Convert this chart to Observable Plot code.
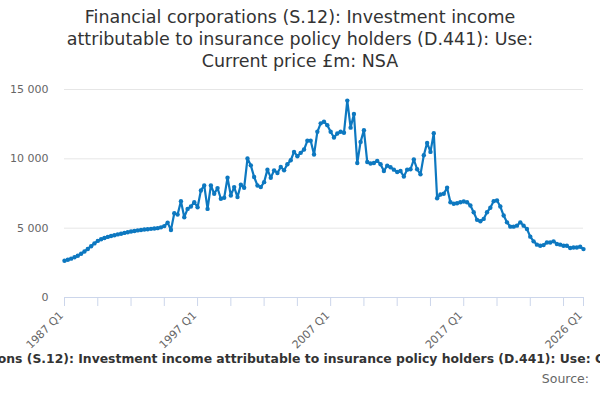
<!DOCTYPE html>
<html>
<head>
<meta charset="utf-8">
<script src="https://cdn.jsdelivr.net/npm/d3@7"></script>
<script src="https://cdn.jsdelivr.net/npm/@observablehq/plot@0.6"></script>
<style>
  html, body { margin: 0; padding: 0; width: 600px; height: 400px; overflow: hidden; background: #fff; font-family: "DejaVu Sans", sans-serif; }
  #title { position: absolute; top: 6px; left: 0; width: 600px; text-align: center; font-size: 17.5px; line-height: 22px; color: #333; }
  #chart { position: absolute; top: 76px; left: 0; }
  #chart svg { overflow: visible; }
  #caption { position: absolute; top: 351px; left: 309px; transform: translateX(-50%); white-space: nowrap; font-size: 12.4px; font-weight: bold; color: #333; }
  #source { position: absolute; top: 371px; right: 11px; font-size: 12.5px; color: #666; }
</style>
</head>
<body>
<div id="title">Financial corporations (S.12): Investment income<br>attributable to insurance policy holders (D.441): Use:<br>Current price £m: NSA</div>
<div id="chart"></div>
<div id="caption">Financial corporations (S.12): Investment income attributable to insurance policy holders (D.441): Use: Current price £m: NSA</div>
<div id="source">Source:</div>
<script>
const startYear = 1987;
const values = [
  2650, 2720, 2800, 2900, 3010, 3150, 3320, 3500, 3700, 3900,
  4080, 4200, 4290, 4370, 4430, 4490, 4550, 4600, 4660, 4710,
  4760, 4800, 4840, 4870, 4900, 4920, 4950, 4980, 5000, 5060,
  5150, 5400, 4870, 6080, 5980, 6950, 5790, 6390, 6560, 6870,
  6510, 7720, 8080, 6390, 8080, 7480, 7890, 7120, 7190, 8640,
  7360, 7960, 7240, 8130, 7920, 10020, 9530, 8690, 8080, 7960,
  8320, 9220, 8640, 9170, 8980, 9410, 9170, 9610, 9900, 10500,
  10190, 10430, 10670, 11300, 11300, 10310, 11950, 12560, 12670, 12430,
  11950, 11540, 11830, 11950, 11880, 14200, 12250, 13230, 9700, 11220,
  12070, 9770, 9660, 9700, 9850, 9610, 9120, 9510, 9390, 9220,
  9050, 9120, 8720, 9220, 9250, 9950, 9250, 8880, 10260, 11150,
  10500, 11850, 7160, 7430, 7480, 7920, 6870, 6760, 6800, 6870,
  6920, 6870, 6630, 6150, 5600, 5500, 5670, 6150, 6470, 6950,
  7000, 6560, 5910, 5420, 5110, 5110, 5180, 5420, 5180, 4940,
  4390, 4050, 3810, 3730, 3780, 3970, 3970, 4050, 3860, 3810,
  3730, 3730, 3570, 3610, 3610, 3660, 3490
];
const quarters = values.map((_, i) => `${startYear + Math.floor(i / 4)} Q${(i % 4) + 1}`);
const tickLabels = ["1987 Q1", "1997 Q1", "2007 Q1", "2017 Q1", "2026 Q1"];
const yTicks = [0, 5000, 10000, 15000];

const data = values.map((v, i) => ({i, quarter: quarters[i], value: v}));
const labelSet = new Set(tickLabels);
const tickIdx = [];
for (let i = 0; i < quarters.length; i += 10) tickIdx.push(i);
tickIdx.push(quarters.length - 1);
const labelIdx = tickIdx.filter(i => labelSet.has(quarters[i]));

const fmt = d => d3.format(",")(d).replace(/,/g, " ");
const color = "#0d78c0";

const plot = Plot.plot({
  width: 600,
  height: 274,
  marginLeft: 64,
  marginRight: 17,
  marginTop: 13,
  marginBottom: 53,
  style: {fontFamily: "DejaVu Sans, sans-serif", fontSize: "11px", background: "transparent", overflow: "visible"},
  x: {domain: [0, quarters.length - 1]},
  y: {domain: [0, 15000]},
  marks: [
    Plot.gridY(yTicks.slice(1), {stroke: "#e6e6e6", strokeOpacity: 1}),
    Plot.axisY({ticks: yTicks, tickSize: 0, tickPadding: 16, tickFormat: fmt, fill: "#666", label: null}),
    Plot.ruleY([0], {stroke: "#ccd6eb", strokeWidth: 1}),
    Plot.axisX({ticks: tickIdx, tickSize: 9, stroke: "#ccd6eb", strokeOpacity: 1, tickFormat: () => "", label: null}),
    Plot.text(labelIdx, {
      x: d => d, y: 0, text: d => quarters[d], frameAnchor: "top",
      rotate: -45, textAnchor: "end", dx: -6, dy: 13, fill: "#666", fontSize: 11
    }),
    Plot.line(data, {x: "i", y: "value", stroke: color, strokeWidth: 2.2}),
    Plot.dot(data, {x: "i", y: "value", fill: color, r: 2.2, stroke: "none"})
  ]
});
document.getElementById("chart").appendChild(plot);
</script>
</body>
</html>
